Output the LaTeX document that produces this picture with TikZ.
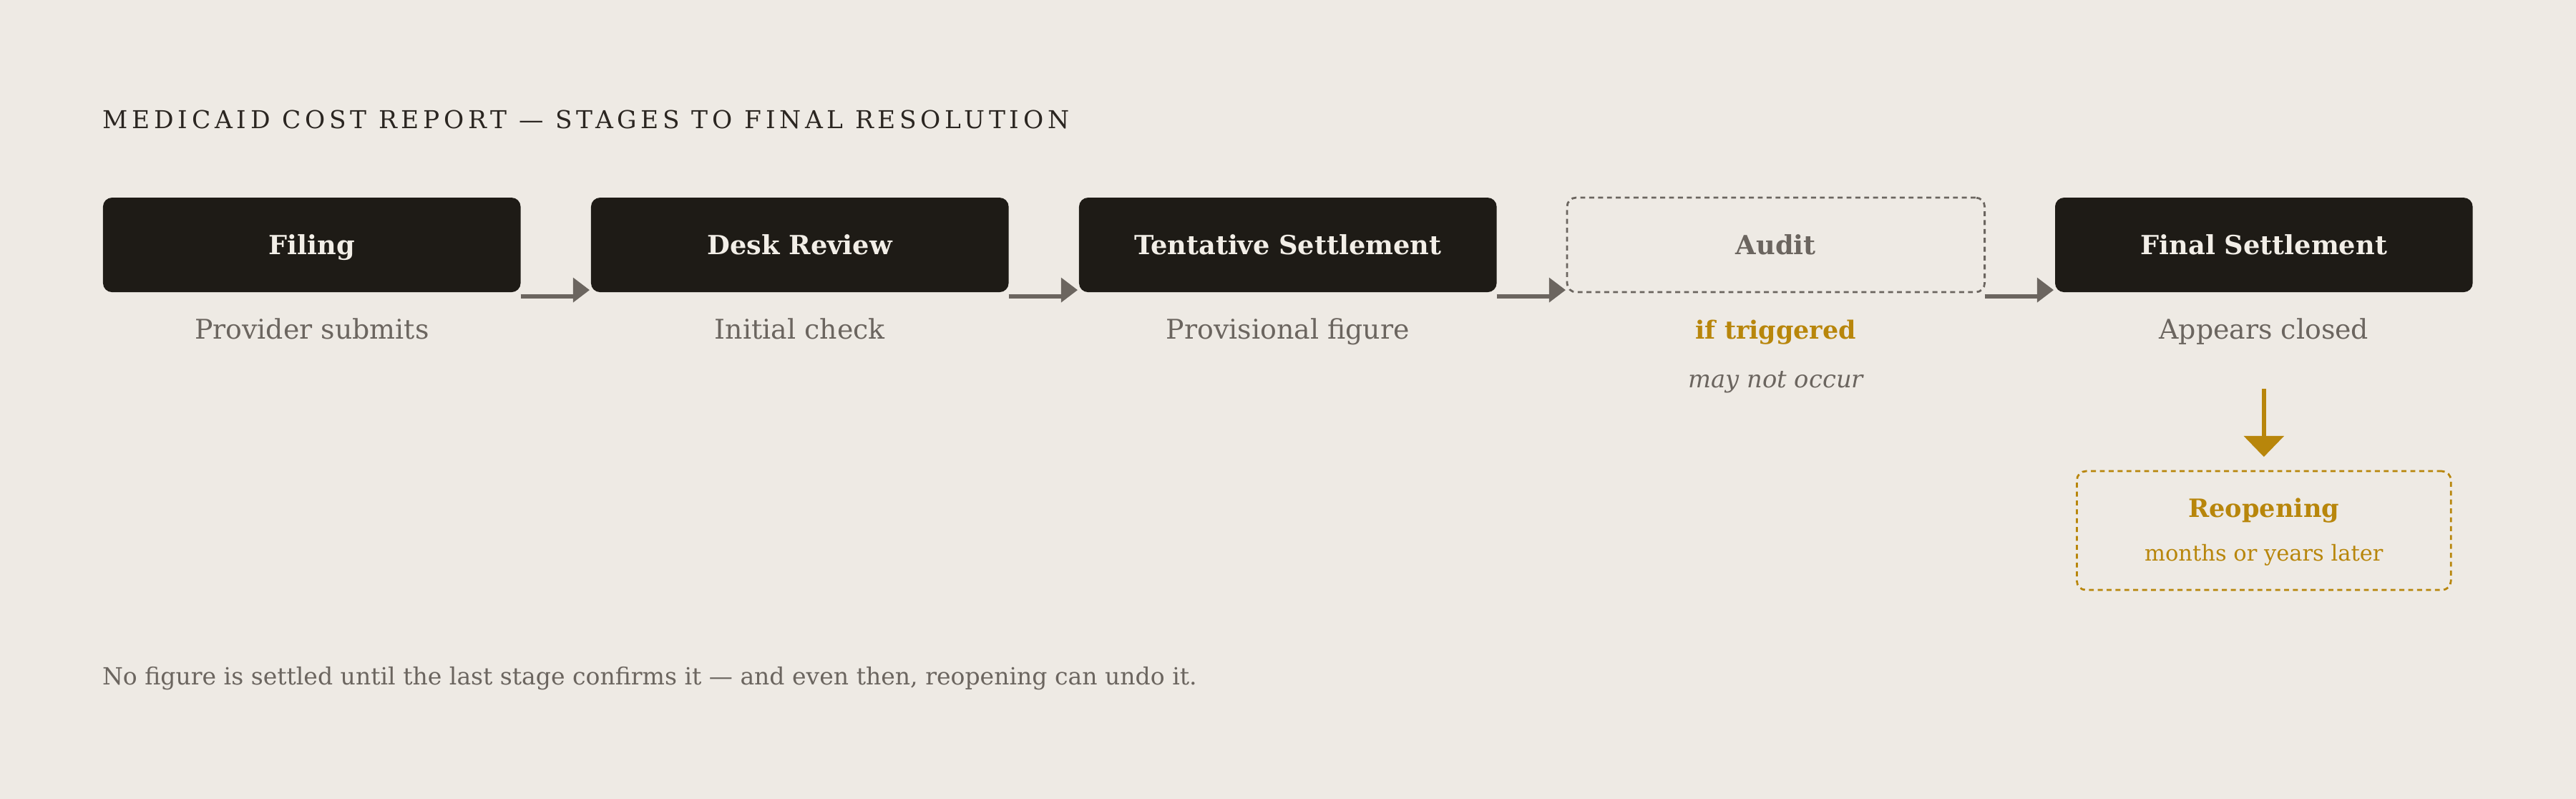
\documentclass[tikz,border=0pt]{standalone}
\usepackage{fontspec}
\setmainfont{DejaVu Serif}
\newfontfamily\capsfont[LetterSpace=16.5]{DejaVu Serif}
\usetikzlibrary{positioning,arrows.meta}
\definecolor{paper}{HTML}{EEEAE4}
\definecolor{ink}{HTML}{1E1B16}
\definecolor{cream}{HTML}{F2EEE7}
\definecolor{slate}{HTML}{6B655F}
\definecolor{ochre}{HTML}{B8860B}
\definecolor{heading}{HTML}{2B2621}

\begin{document}
\begin{tikzpicture}[x=1pt, y=1pt, node distance=42.85pt,
    every node/.style = {align=center, inner sep=0pt, outer sep=0pt},
    stage/.style={shape=rectangle, rounded corners=5.5pt,
      minimum width=254.2pt, minimum height=57.5pt,
      fill=ink, text=cream, text height=11.7pt, text depth=0pt,
      font=\bfseries\fontsize{16}{19}\selectfont},
    maybe/.style={stage, fill=none, draw=slate, text=slate,
      dash pattern=on 3pt off 2.4pt, line width=1.2pt},
    reopenbox/.style={shape=rectangle, rounded corners=5.5pt,
      minimum width=227.7pt, minimum height=72.3pt,
      draw=ochre, dash pattern=on 3pt off 2.4pt, line width=1.2pt},
    note/.style={anchor=base, text=slate, font=\fontsize{16.5}{19}\selectfont},
    flag/.style={anchor=base, text=ochre, font=\bfseries\fontsize{15.2}{18}\selectfont},
    aside/.style={anchor=base, text=slate, font=\itshape\fontsize{14.7}{18}\selectfont},
    flow/.style={draw=slate, line width=2.6pt},
    drop/.style={draw=ochre, line width=2.6pt, -{Triangle[length=12.7pt, width=24pt]}},
    ]

    % page
    \fill[paper] (0,0) rectangle (1568,486);
    \useasboundingbox (0,0) rectangle (1568,486);

    \node[anchor=base west, text=heading, font=\capsfont\fontsize{15}{18}\selectfont]
      (title) at (62.7,407.6) {MEDICAID COST REPORT — STAGES TO FINAL RESOLUTION};

    % the five stages
    \node[stage] (filing) at (189.8,337) {Filing};
    \node[stage, right=of filing] (desk) {Desk Review};
    \node[stage, right=of desk] (tentative) {Tentative Settlement};
    \node[maybe, right=of tentative] (audit) {Audit};
    \node[stage, right=of audit] (final) {Final Settlement};

    \node[note] (filingnote) at ([yshift=-28.3]filing.south) {Provider submits};
    \node[note] (desknote) at ([yshift=-28.3]desk.south) {Initial check};
    \node[note] (tentativenote) at ([yshift=-28.3]tentative.south) {Provisional figure};
    \node[flag] (auditnote) at ([yshift=-28.3]audit.south) {if triggered};
    \node[aside] (auditaside) at ([yshift=-57.9]audit.south) {may not occur};
    \node[note] (finalnote) at ([yshift=-28.3]final.south) {Appears closed};

    \foreach \a/\b in {filing/desk, desk/tentative, tentative/audit, audit/final} {
      \draw[flow] ([yshift=-2.6]\a.south east) -- ([xshift=-10.9, yshift=-2.6]\b.south west);
      \fill[slate] ([xshift=-0.9, yshift=1.3]\b.south west) -- ++(-10,7.6) -- ++(0,-15.2) -- cycle;
    }

    % reopening
    \node[reopenbox, below=108.9pt of final] (reopen) {};
    \node[flag, font=\bfseries\fontsize{15.3}{18}\selectfont] (reopentitle)
      at ([yshift=-28.1]reopen.north) {Reopening};
    \node[flag, font=\fontsize{13.3}{16}\selectfont] (reopennote)
      at ([yshift=-54.8]reopen.north) {months or years later};
    \draw[drop] ([yshift=-58.8]final.south) -- ([yshift=8.7]reopen.north);

    \node[anchor=base west, text=slate, font=\fontsize{14.4}{17}\selectfont] (footer) at (62.3,69.6)
      {No figure is settled until the last stage confirms it — and even then, reopening can undo it.};

\end{tikzpicture}
\end{document}
